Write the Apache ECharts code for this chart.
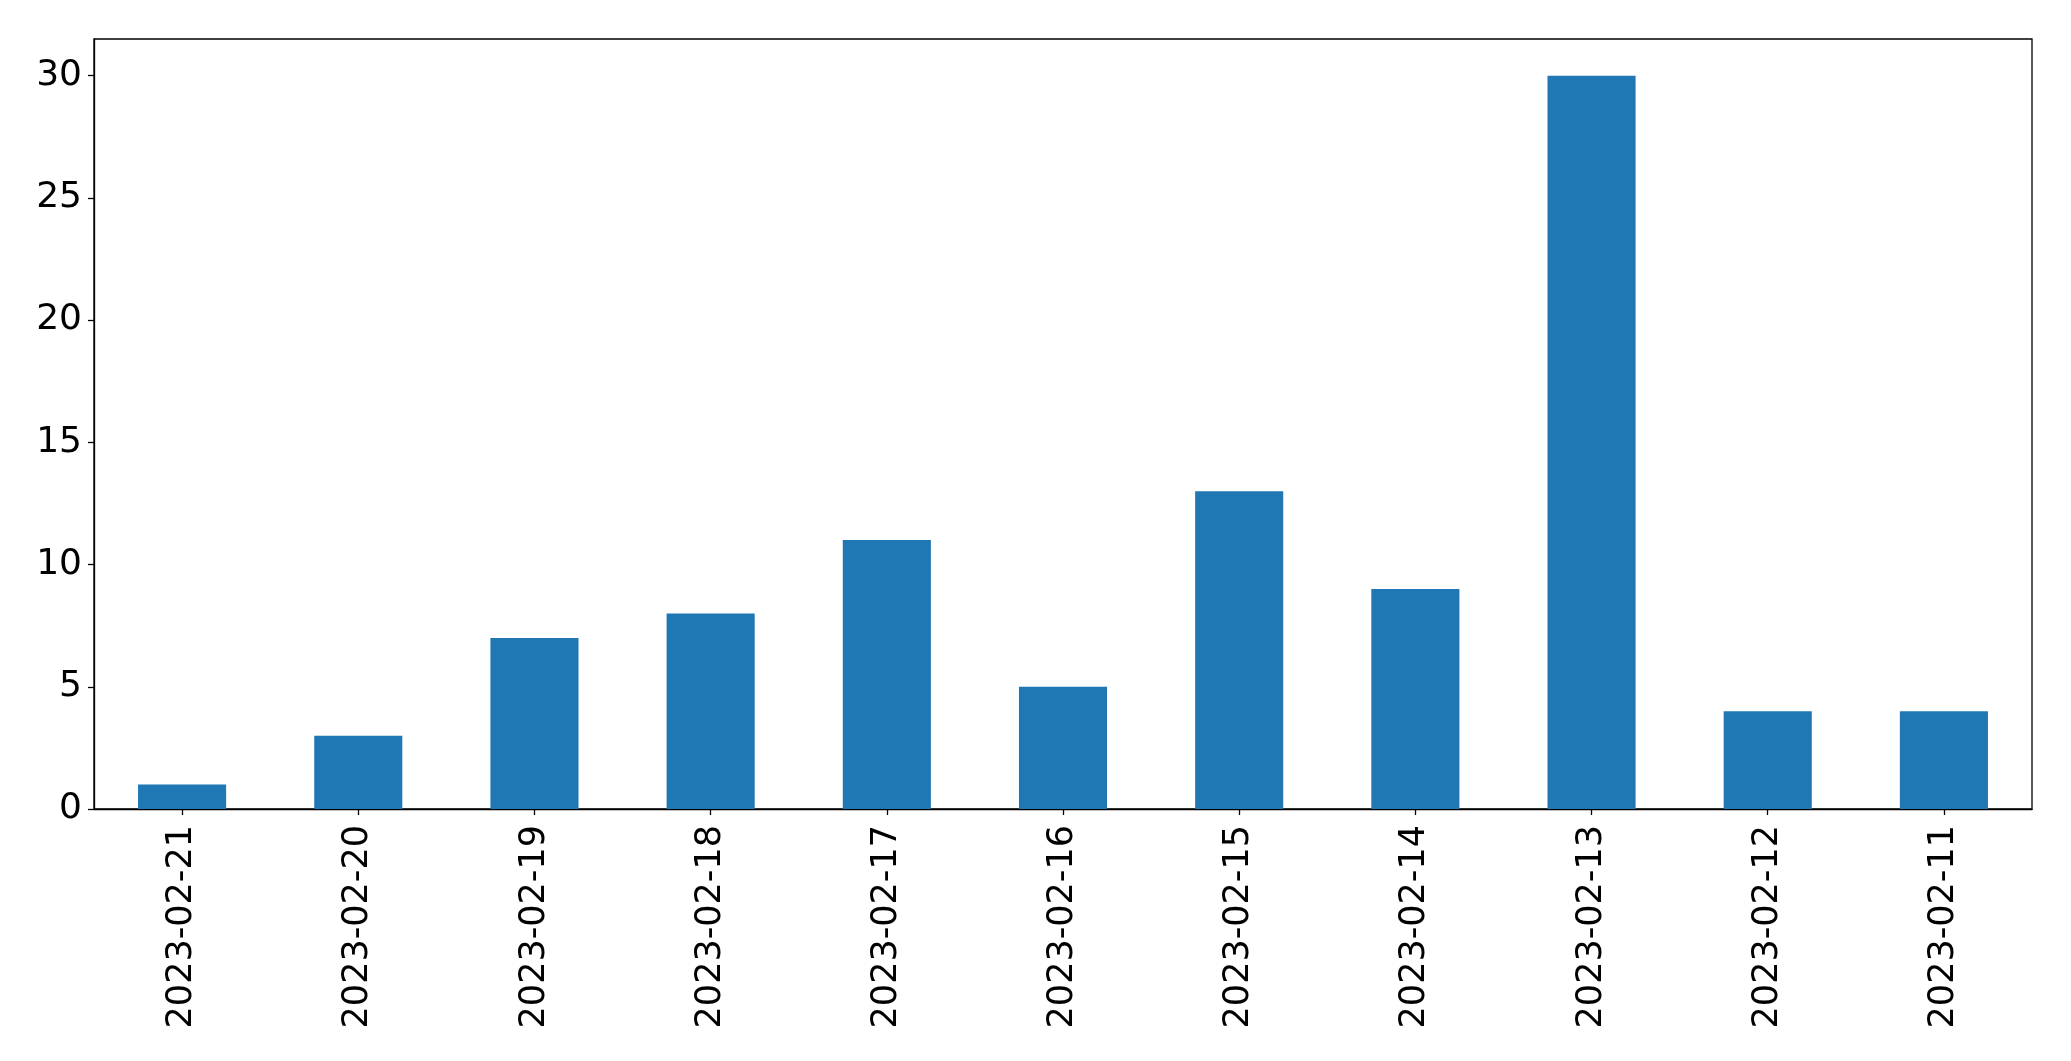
<!DOCTYPE html>
<html>
<head>
<meta charset="utf-8">
<script src="https://cdn.jsdelivr.net/npm/echarts@6/dist/echarts.min.js"></script>
<style>html,body{margin:0;padding:0;background:#fff}#c{width:2071px;height:1061px}</style>
</head>
<body>
<div id="c"></div>
<script>
const categories = ['2023-02-21','2023-02-20','2023-02-19','2023-02-18','2023-02-17','2023-02-16','2023-02-15','2023-02-14','2023-02-13','2023-02-12','2023-02-11'];
const values = [1,3,7,8,11,5,13,9,30,4,4];
const yTicks = [0,5,10,15,20,25,30];

const chart = echarts.init(document.getElementById('c'), null, {renderer:'canvas'});
const font = 'DejaVu Sans';
chart.setOption({
  animation:false,
  backgroundColor:'#fff',
  grid:{left:94,right:39,top:39,bottom:252,show:true,borderColor:'#000',borderWidth:1.3,containLabel:false},
  xAxis:{
    type:'category', data:categories,
    axisLine:{show:true,lineStyle:{color:'#000',width:1.3}},
    axisTick:{show:true,alignWithLabel:true,length:6,lineStyle:{color:'#000',width:1.3}},
    axisLabel:{rotate:90,margin:16,color:'#000',fontFamily:font,fontSize:35,interval:0},
    splitLine:{show:false}
  },
  yAxis:{
    type:'value', min:0, max:31.5,
    axisLine:{show:true,lineStyle:{color:'#000',width:1.3}},
    axisTick:{show:true,length:6,customValues:yTicks,lineStyle:{color:'#000',width:1.3}},
    axisLabel:{customValues:yTicks,margin:12,color:'#000',fontFamily:font,fontSize:36},
    splitLine:{show:false}
  },
  series:[{type:'bar',data:values,barWidth:'50%',itemStyle:{color:'#1f77b4'}}]
});
</script>
</body>
</html>
